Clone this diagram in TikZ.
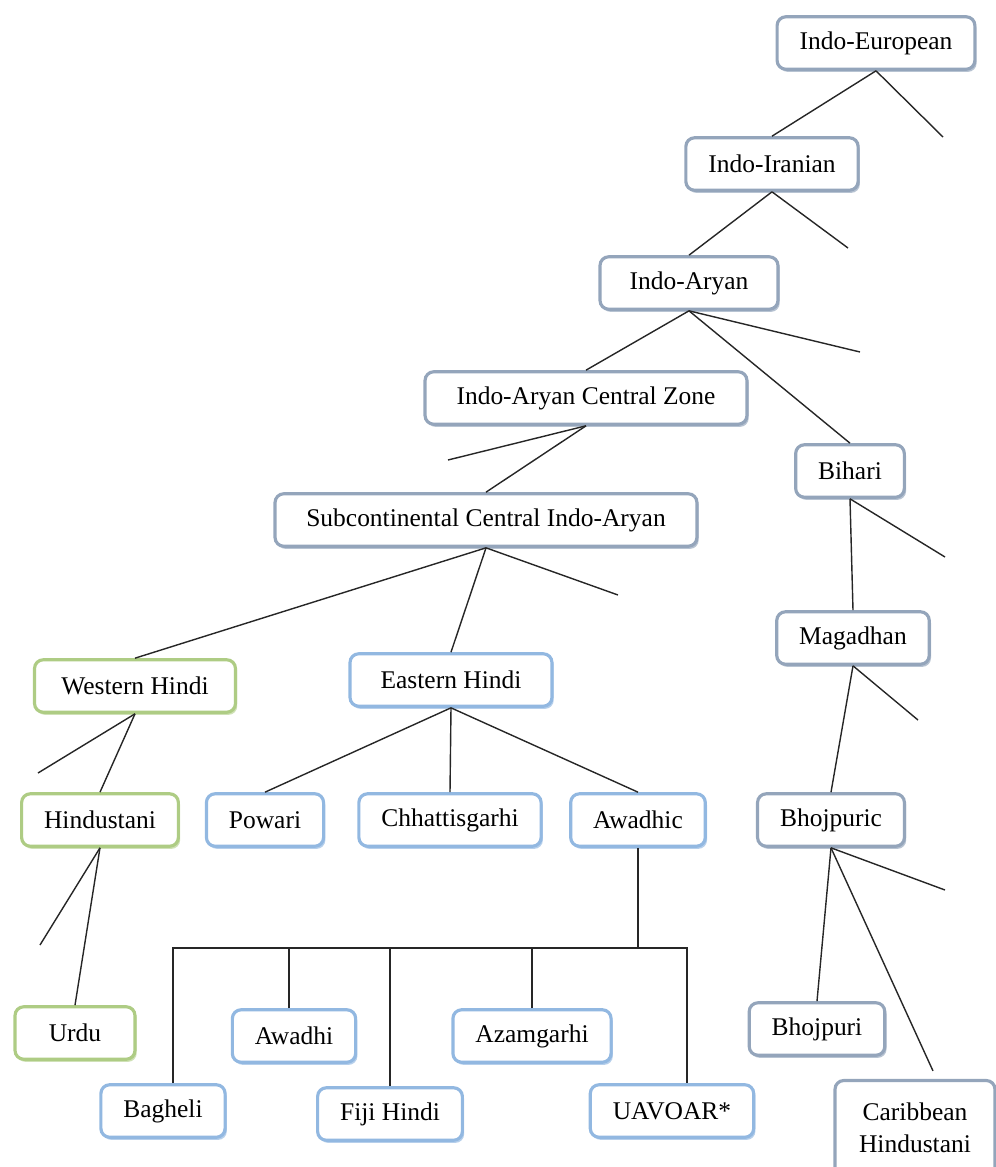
\documentclass[tikz,border=0pt]{standalone}
\usepackage{fontspec}
\setmainfont{Liberation Serif}
\usetikzlibrary{shadows}
\definecolor{slate}{RGB}{112,135,165}
\definecolor{sky}{RGB}{110,160,215}
\definecolor{leaf}{RGB}{160,195,110}
\begin{document}
\begin{tikzpicture}
[
 x=0.02cm, y=-0.02cm,
 every node/.style={font=\fontsize{14.5}{16}\selectfont},
 BOX/.style={rectangle, rounded corners=5pt, fill=white, line width=1.8pt, inner xsep=0.45cm, minimum height=1.05cm, align=center},
 GREYBOX/.style={BOX, draw=slate!75, drop shadow={fill=slate, opacity=0.5, shadow xshift=1pt, shadow yshift=-1.5pt}},
 BLUEBOX/.style={BOX, draw=sky!75, drop shadow={fill=sky, opacity=0.5, shadow xshift=1pt, shadow yshift=-1.5pt}},
 GREENBOX/.style={BOX, draw=leaf!85, drop shadow={fill=leaf, opacity=0.5, shadow xshift=1pt, shadow yshift=-1.5pt}},
 LINK/.style={line width=0.8pt, black!85},
 ]
%
\useasboundingbox (0,0) rectangle (995,1167);
%
\node [GREYBOX]  (IE)   at (876,  43)  {Indo-European};
\node [GREYBOX]  (II)   at (772, 164)  {Indo-Iranian};
\node [GREYBOX, minimum width=3.56cm]  (IA)   at (689, 283)  {Indo-Aryan};
\node [GREYBOX, minimum width=6.44cm]  (IACZ) at (586, 398)  {Indo-Aryan Central Zone};
\node [GREYBOX]  (BIH)  at (850, 471)  {Bihari};
\node [GREYBOX, minimum width=8.44cm]  (SCIA) at (486, 520)  {Subcontinental Central Indo-Aryan};
\node [GREYBOX]  (MAG)  at (853, 638)  {Magadhan};
\node [GREYBOX]  (BHC)  at (831, 820)  {Bhojpuric};
\node [GREYBOX]  (BHO)  at (817,1029)  {Bhojpuri};
\node [GREYBOX, minimum height=1.9cm, minimum width=3.2cm, inner xsep=0.3cm,
       font=\fontsize{14.5}{18.5}\selectfont]  (CAR)  at (915,1128)  {Caribbean\\Hindustani};
%
\node [GREENBOX, minimum width=4.02cm] (WH)   at (135, 686)  {Western Hindi};
\node [GREENBOX] (HIN)  at (100, 820)  {Hindustani};
\node [GREENBOX, minimum width=2.4cm] (URD)  at ( 75,1033)  {Urdu};
%
\node [BLUEBOX, minimum width=4.04cm]  (EH)   at (451, 680)  {Eastern Hindi};
\node [BLUEBOX]  (POW)  at (265, 820)  {Powari};
\node [BLUEBOX]  (CHH)  at (450, 820)  {Chhattisgarhi};
\node [BLUEBOX]  (AWC)  at (638, 820)  {Awadhic};
\node [BLUEBOX]  (AWD)  at (294,1036)  {Awadhi};
\node [BLUEBOX]  (AZA)  at (532,1036)  {Azamgarhi};
\node [BLUEBOX]  (BAG)  at (163,1111)  {Bagheli};
\node [BLUEBOX]  (FIJ)  at (390,1114)  {Fiji Hindi};
\node [BLUEBOX]  (UAV)  at (672,1111)  {UAVOAR*};
%
% loose ends
\coordinate (IEr)   at (943, 137);
\coordinate (IIr)   at (848, 248);
\coordinate (IAr)   at (860, 352);
\coordinate (IACZl) at (448, 460);
\coordinate (BIHr)  at (945, 557);
\coordinate (SCIAr) at (618, 595);
\coordinate (MAGr)  at (918, 720);
\coordinate (WHl)   at ( 38, 773);
\coordinate (HINl)  at ( 40, 945);
\coordinate (BHCr)  at (945, 890);
\coordinate (bar)   at (638, 948);
%
\draw [LINK]  (IE.south)   -- (II.north) ;
\draw [LINK]  (IE.south)   -- (IEr) ;
\draw [LINK]  (II.south)   -- (IA.north) ;
\draw [LINK]  (II.south)   -- (IIr) ;
\draw [LINK]  (IA.south)   -- (IACZ.north) ;
\draw [LINK]  (IA.south)   -- (IAr) ;
\draw [LINK]  (IA.south)   -- (BIH.north) ;
\draw [LINK]  (IACZ.south) -- (IACZl) ;
\draw [LINK]  (IACZ.south) -- (SCIA.north) ;
\draw [LINK]  (BIH.south)  -- (BIHr) ;
\draw [LINK]  (BIH.south)  -- (MAG.north) ;
\draw [LINK]  (SCIA.south) -- (WH.north) ;
\draw [LINK]  (SCIA.south) -- (EH.north) ;
\draw [LINK]  (SCIA.south) -- (SCIAr) ;
\draw [LINK]  (MAG.south)  -- (BHC.north) ;
\draw [LINK]  (MAG.south)  -- (MAGr) ;
\draw [LINK]  (WH.south)   -- (WHl) ;
\draw [LINK]  (WH.south)   -- (HIN.north) ;
\draw [LINK]  (EH.south)   -- (POW.north) ;
\draw [LINK]  (EH.south)   -- (CHH.north) ;
\draw [LINK]  (EH.south)   -- (AWC.north) ;
\draw [LINK]  (HIN.south)  -- (HINl) ;
\draw [LINK]  (HIN.south)  -- (URD.north) ;
\draw [LINK]  (BHC.south)  -- (BHCr) ;
\draw [LINK]  (BHC.south)  -- (BHO.north) ;
\draw [LINK]  (BHC.south)  -- ([xshift=0.36cm, yshift=0.16cm]CAR.north) ;
%
\draw [LINK]  (AWC.south)  -- (bar) ;
\draw [LINK]  ([xshift=0.2cm]BAG.north) |- ([xshift=0.3cm]UAV.north |- bar) -- ([xshift=0.3cm]UAV.north) ;
\draw [LINK]  ([xshift=-0.1cm]AWD.north) -- ([xshift=-0.1cm]AWD.north |- bar) ;
\draw [LINK]  (FIJ.north)  -- (FIJ.north |- bar) ;
\draw [LINK]  (AZA.north)  -- (AZA.north |- bar) ;
%
\end{tikzpicture}
\end{document}
